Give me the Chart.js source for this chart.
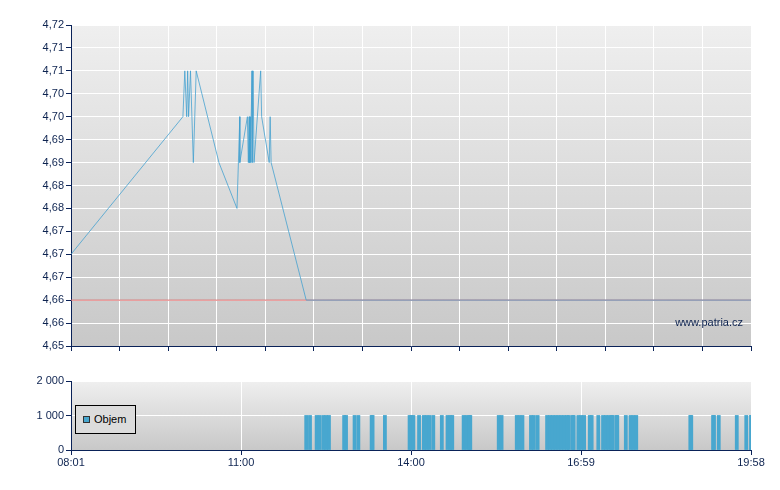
<!DOCTYPE html>
<html><head><meta charset="utf-8">
<script src="https://cdn.jsdelivr.net/npm/chart.js@4.4.1/dist/chart.umd.min.js"></script>
<style>
html,body{margin:0;padding:0;background:#fff;}
#wrap{position:relative;width:780px;height:490px;overflow:hidden;}
#c1{position:absolute;left:0;top:0;}
#c2{position:absolute;left:0;top:360px;}
.wm{position:absolute;left:600px;width:143px;text-align:right;top:316px;font:11px "Liberation Sans",Arial,sans-serif;color:#0d2350;}
.lg{position:absolute;left:75px;top:405px;width:59px;height:27px;border:1px solid #000;background:#dcdcdc;font:11px "Liberation Sans",Arial,sans-serif;color:#000;}
.lg .sq{position:absolute;left:7px;top:10px;width:5px;height:5px;border:1px solid #333;background:#48a7cf;}
.lg .tx{position:absolute;left:18px;top:6px;line-height:14px;}
</style></head>
<body><div id="wrap">
<canvas id="c1" width="780" height="360"></canvas>
<canvas id="c2" width="780" height="120"></canvas>
<div class="wm">www.patria.cz</div>
<div class="lg"><div class="sq"></div><div class="tx">Objem</div></div>
</div>
<script>
// ---- data ----
const priceTimes = ["08:01","09:59","10:01","10:03","10:04","10:05","10:07","10:10","10:13","10:37","10:56","10:59","10:59","11:07","11:08","11:09","11:09","11:10","11:10","11:11","11:12","11:12","11:13","11:14","11:21","11:22","11:30","11:31","11:32","12:09","19:58"];
const priceValues = [4.67,4.70,4.71,4.70,4.71,4.70,4.71,4.69,4.71,4.69,4.68,4.70,4.69,4.70,4.69,4.70,4.69,4.70,4.69,4.70,4.71,4.69,4.71,4.69,4.71,4.70,4.69,4.70,4.69,4.66,4.66];
const prevClose = 4.66;
const priceTickValues = [4.65,4.655,4.66,4.665,4.67,4.675,4.68,4.685,4.69,4.695,4.70,4.705,4.71,4.715,4.72];
const priceTickLabels = ["4,65","4,66","4,66","4,67","4,67","4,67","4,68","4,68","4,69","4,69","4,70","4,70","4,71","4,71","4,72"];

const volTimes = ["12:09","12:13","12:20","12:23","12:27","12:30","12:33","12:49","12:51","13:00",
                  "13:04","13:18","13:19","13:32","13:58","14:00","14:02","14:08","14:13","14:16",
                  "14:19","14:23","14:32","14:38","14:41","14:43","14:55","14:58","15:01","15:02",
                  "15:32","15:35","15:51","15:54","15:57","16:06","16:09","16:13","16:23","16:26",
                  "16:29","16:32","16:35","16:38","16:41","16:44","16:46","16:50","16:51","16:56",
                  "16:59","17:02","17:08","17:10","17:17","17:22","17:25","17:28","17:31","17:32",
                  "17:36","17:37","17:46","17:51","17:54","17:57","18:54","18:55","19:18","19:19",
                  "19:24","19:43","19:53","19:58"];
const volValues = [1000,1000,1000,1000,1000,1000,1000,1000,1000,1000,
                   1000,1000,1000,1000,1000,1000,1000,1000,1000,1000,
                   1000,1000,1000,1000,1000,1000,1000,1000,1000,1000,
                   1000,1000,1000,1000,1000,1000,1000,1000,1000,1000,
                   1000,1000,1000,1000,1000,1000,1000,1000,1000,1000,
                   1000,1000,1000,1000,1000,1000,1000,1000,1000,1000,
                   1000,1000,1000,1000,1000,1000,1000,1000,1000,1000,
                   1000,1000,1000,1000];
const volTickValues = [0,1000,2000];
const volTickLabels = ["0","1 000","2 000"];
const timeStart = "08:01", timeEnd = "19:58";
const timeTickLabels = ["08:01","11:00","14:00","16:59","19:58"];

// ---- helpers ----
const toMin = s => { const [h,m] = s.split(":").map(Number); return h*60+m; };
const tMin = toMin(timeStart), tMax = toMin(timeEnd);
const NAVY = '#0a2258', TXT = '#0d2350';
Chart.defaults.font.family = '"Liberation Sans", Arial, sans-serif';
Chart.defaults.font.size = 11;
Chart.defaults.color = TXT;
Chart.defaults.animation = false;

const bgPlugin = { id:'bg', beforeDraw(chart){
  const {ctx, chartArea:a} = chart;
  const g = ctx.createLinearGradient(0,a.top,0,a.bottom);
  g.addColorStop(0,'#efefef'); g.addColorStop(1,'#c8c8c8');
  ctx.save(); ctx.fillStyle = g; ctx.fillRect(a.left,a.top,a.right-a.left,a.bottom-a.top); ctx.restore();
}};

// gridline divisions of the time axes
const topDiv = 14, botDiv = 4;
const evenTicks = n => Array.from({length:n+1},(_,i)=>({value: tMin + (tMax-tMin)*i/n}));

new Chart(document.getElementById('c1'), {
  type:'line',
  data:{ datasets:[
    { data: priceTimes.map((t,i)=>({x:toMin(t), y:priceValues[i]})), borderColor:'rgba(66,160,208,0.78)', borderWidth:1, pointRadius:0, tension:0, order:1 },
    { data: [{x:tMin,y:prevClose},{x:tMax,y:prevClose}], borderColor:'#dc6a6a', borderWidth:1, pointRadius:0, order:2 }
  ]},
  options:{
    responsive:false, maintainAspectRatio:false,
    layout:{ padding:{ top:25, right:29, left:0, bottom:0 } },
    plugins:{ legend:{display:false}, tooltip:{enabled:false} },
    scales:{
      x:{ type:'linear', min:tMin, max:tMax,
        afterBuildTicks: s => { s.ticks = evenTicks(topDiv); },
        afterFit: s => { s.height = 14; },
        ticks:{ callback: ()=>'' , padding:0},
        grid:{ color:'#ffffff', lineWidth:1, tickColor:NAVY, tickLength:5 },
        border:{ color:NAVY, width:1 } },
      y:{ min:4.65, max:4.72,
        afterBuildTicks: s => { s.ticks = priceTickValues.map(v=>({value:v})); },
        afterFit: s => { s.width = 71; },
        ticks:{ callback:(v,i)=>priceTickLabels[i], padding:2, color:TXT },
        grid:{ color:'#ffffff', lineWidth:1, tickColor:NAVY, tickLength:5 },
        border:{ color:NAVY, width:1 } }
    }
  },
  plugins:[bgPlugin]
});

new Chart(document.getElementById('c2'), {
  type:'bar',
  data:{ datasets:[
    { data: volTimes.map((t,i)=>({x:toMin(t), y:volValues[i]})), backgroundColor:'#48a7cf', borderWidth:0, barThickness:3, inflateAmount:0.4, clip:0 }
  ]},
  options:{
    responsive:false, maintainAspectRatio:false,
    layout:{ padding:{ top:21, right:29, left:0, bottom:0 } },
    plugins:{ legend:{display:false}, tooltip:{enabled:false} },
    scales:{
      x:{ type:'linear', min:tMin, max:tMax, offset:false,
        afterBuildTicks: s => { s.ticks = evenTicks(botDiv); },
        afterFit: s => { s.height = 30; },
        ticks:{ callback:(v,i)=>timeTickLabels[i], padding:1, maxRotation:0, autoSkip:false, color:TXT },
        grid:{ offset:false, color:'#ffffff', lineWidth:1, tickColor:NAVY, tickLength:5 },
        border:{ color:NAVY, width:1 } },
      y:{ min:0, max:2000,
        afterBuildTicks: s => { s.ticks = volTickValues.map(v=>({value:v})); },
        afterFit: s => { s.width = 71; },
        ticks:{ callback:(v,i)=>volTickLabels[i], padding:2, color:TXT },
        grid:{ color:'#ffffff', lineWidth:1, tickColor:NAVY, tickLength:5 },
        border:{ color:NAVY, width:1 } }
    }
  },
  plugins:[bgPlugin]
});
</script>
</body></html>
